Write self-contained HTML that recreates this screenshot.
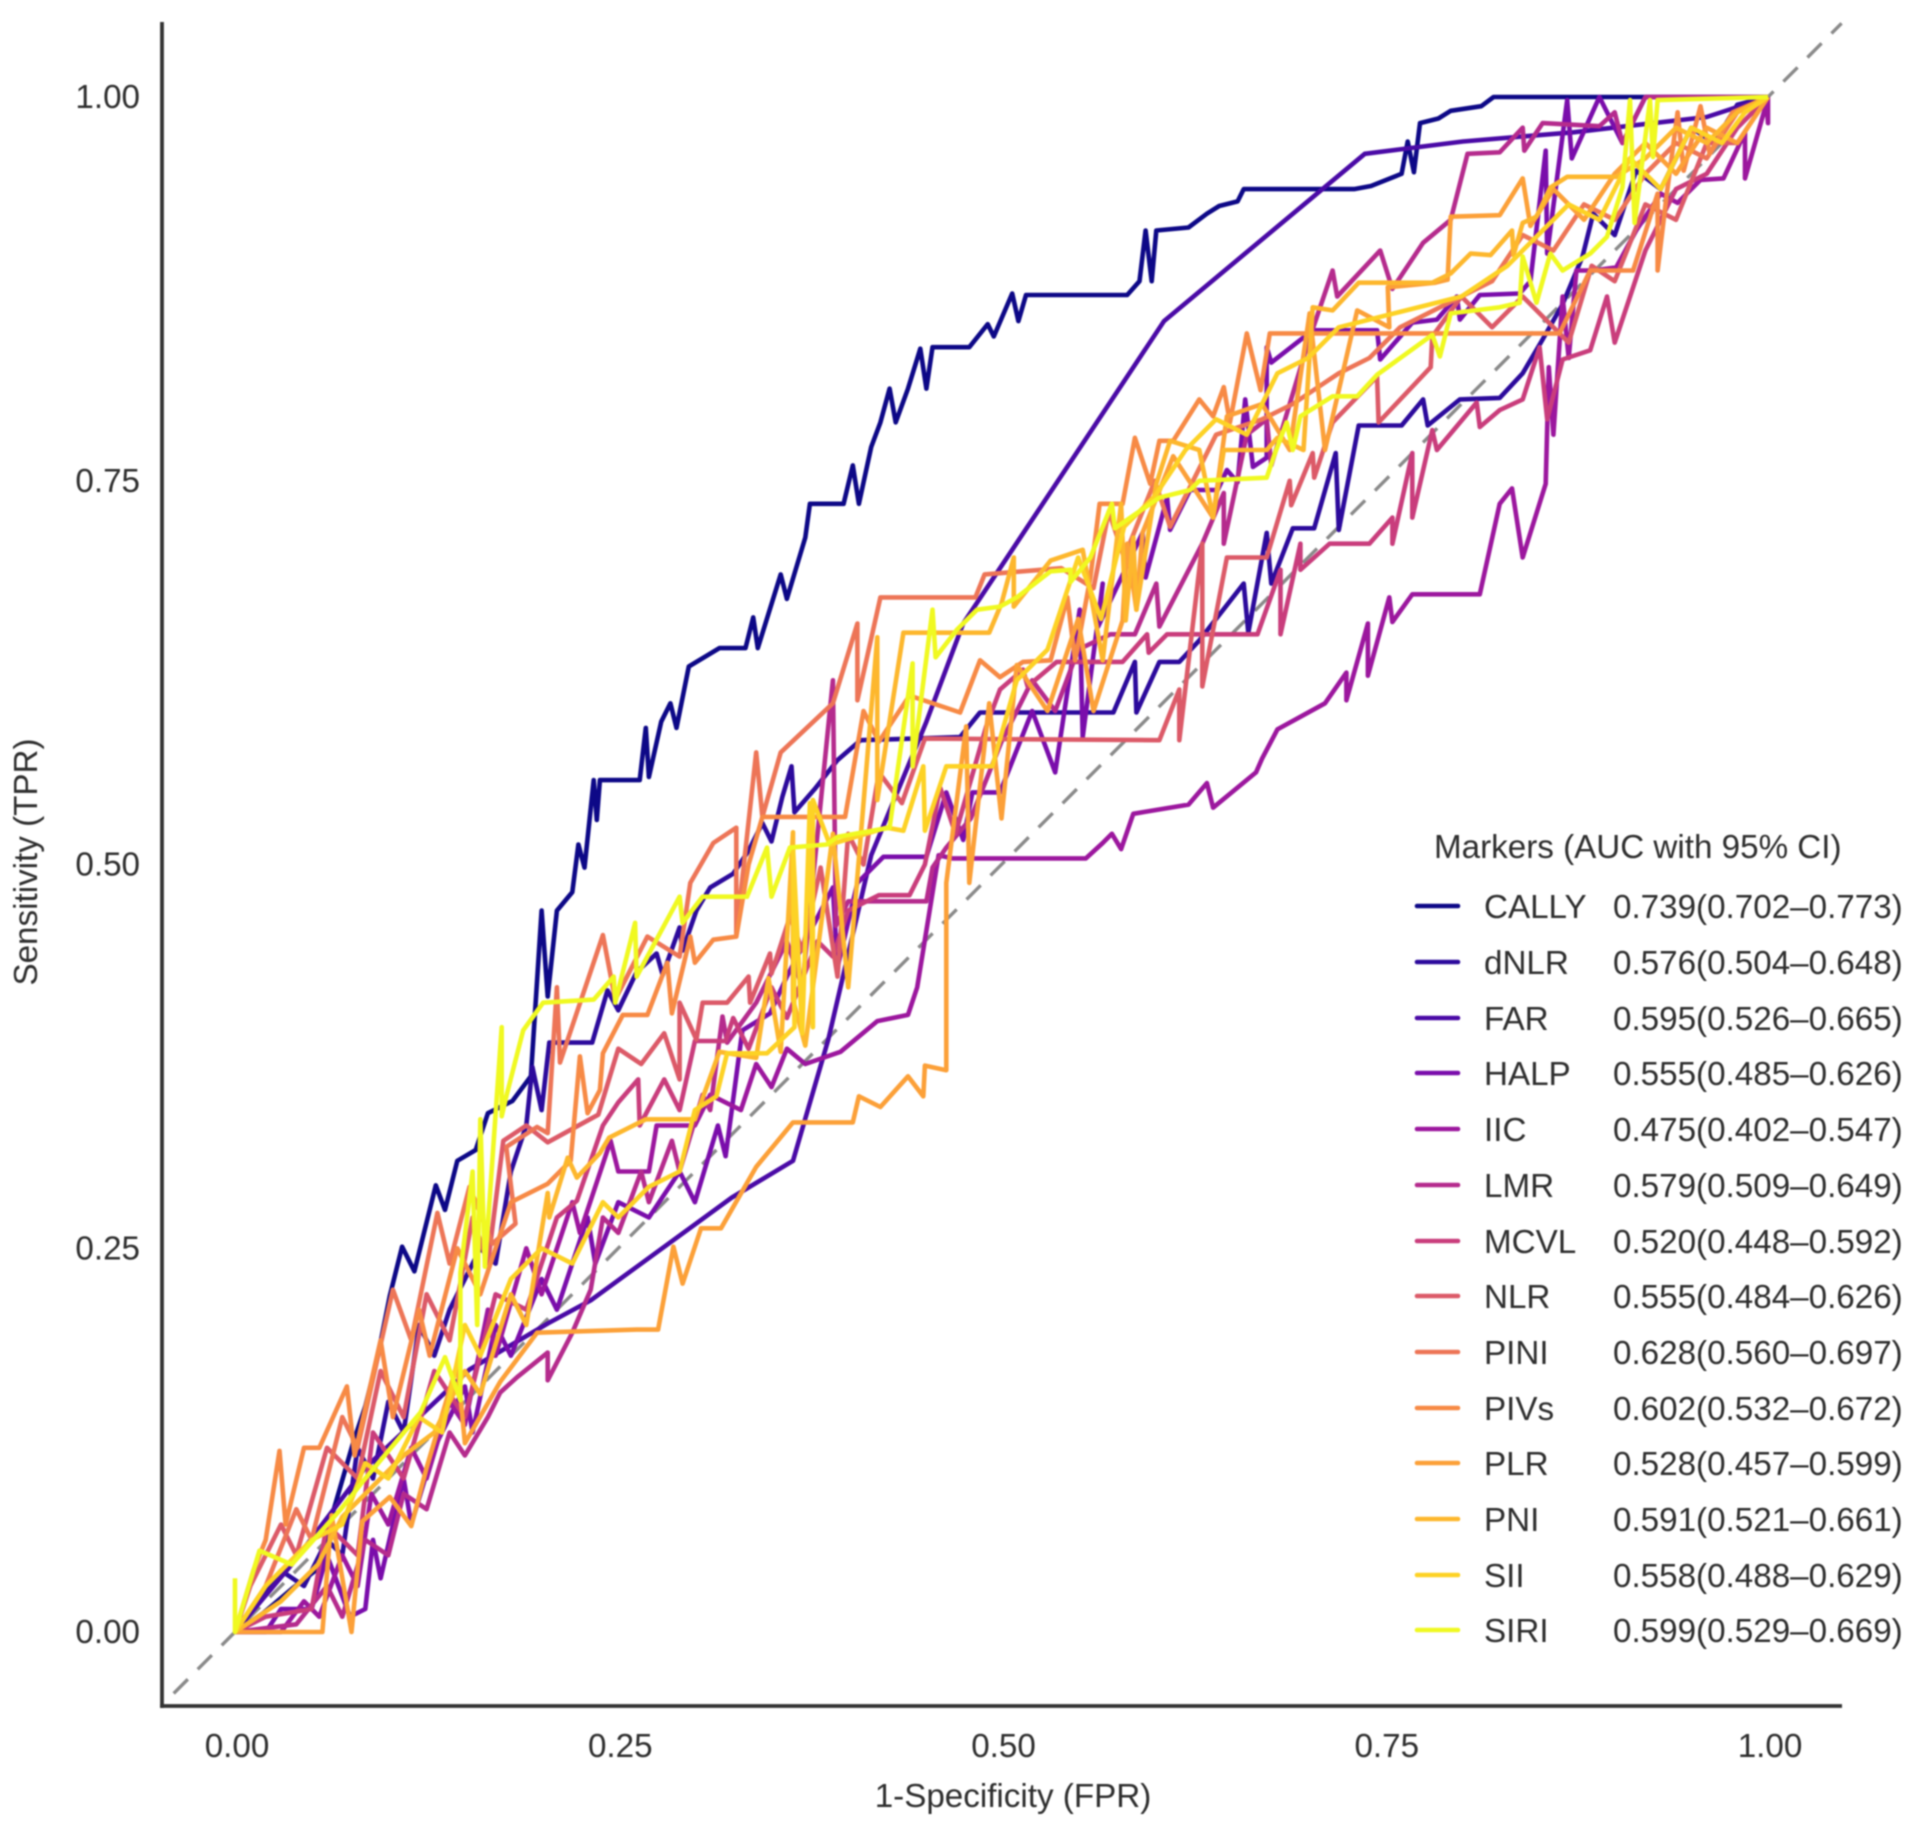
<!DOCTYPE html>
<html lang="en">
<head>
<meta charset="utf-8">
<title>ROC curves of markers</title>
<style>
html,body{margin:0;padding:0;background:#fff;}
svg{display:block;filter:blur(0.7px);}
text{font-family:"Liberation Sans",Arial,sans-serif;font-size:33.2px;fill:#2e2e2e;}
</style>
</head>
<body>
<svg id="chart" width="1913" height="1828" viewBox="0 0 1913 1828" xmlns="http://www.w3.org/2000/svg">
  <rect x="0" y="0" width="1913" height="1828" fill="#fff"/>
  <g id="curves"></g>
  <g id="ticks"></g>
  <line x1="162" y1="22" x2="162" y2="1708" stroke="#333" stroke-width="3.8"/>
  <line x1="160.1" y1="1706" x2="1842" y2="1706" stroke="#333" stroke-width="3.8"/>
  <text x="1013" y="1807" text-anchor="middle">1-Specificity (FPR)</text>
  <text transform="translate(37,862) rotate(-90)" text-anchor="middle">Sensitivity (TPR)</text>
  <g id="legend">
    <text x="1434" y="858">Markers (AUC with 95% CI)</text>
    <line x1="1417" x2="1458" y1="906" y2="906" stroke="#0d0887" stroke-width="4.6" stroke-linecap="round"/>
    <text x="1484" y="918">CALLY</text>
    <text x="1613" y="918">0.739(0.702–0.773)</text>
    <line x1="1417" x2="1458" y1="962" y2="962" stroke="#2c0a9c" stroke-width="4.6" stroke-linecap="round"/>
    <text x="1484" y="974">dNLR</text>
    <text x="1613" y="974">0.576(0.504–0.648)</text>
    <line x1="1417" x2="1458" y1="1018" y2="1018" stroke="#4a0aa6" stroke-width="4.6" stroke-linecap="round"/>
    <text x="1484" y="1030">FAR</text>
    <text x="1613" y="1030">0.595(0.526–0.665)</text>
    <line x1="1417" x2="1458" y1="1073" y2="1073" stroke="#7a0dab" stroke-width="4.6" stroke-linecap="round"/>
    <text x="1484" y="1085">HALP</text>
    <text x="1613" y="1085">0.555(0.485–0.626)</text>
    <line x1="1417" x2="1458" y1="1129" y2="1129" stroke="#9c179e" stroke-width="4.6" stroke-linecap="round"/>
    <text x="1484" y="1141">IIC</text>
    <text x="1613" y="1141">0.475(0.402–0.547)</text>
    <line x1="1417" x2="1458" y1="1185" y2="1185" stroke="#b52b8d" stroke-width="4.6" stroke-linecap="round"/>
    <text x="1484" y="1197">LMR</text>
    <text x="1613" y="1197">0.579(0.509–0.649)</text>
    <line x1="1417" x2="1458" y1="1241" y2="1241" stroke="#c93d7c" stroke-width="4.6" stroke-linecap="round"/>
    <text x="1484" y="1253">MCVL</text>
    <text x="1613" y="1253">0.520(0.448–0.592)</text>
    <line x1="1417" x2="1458" y1="1296" y2="1296" stroke="#dc5a68" stroke-width="4.6" stroke-linecap="round"/>
    <text x="1484" y="1308">NLR</text>
    <text x="1613" y="1308">0.555(0.484–0.626)</text>
    <line x1="1417" x2="1458" y1="1352" y2="1352" stroke="#ed7557" stroke-width="4.6" stroke-linecap="round"/>
    <text x="1484" y="1364">PINI</text>
    <text x="1613" y="1364">0.628(0.560–0.697)</text>
    <line x1="1417" x2="1458" y1="1408" y2="1408" stroke="#f78a45" stroke-width="4.6" stroke-linecap="round"/>
    <text x="1484" y="1420">PIVs</text>
    <text x="1613" y="1420">0.602(0.532–0.672)</text>
    <line x1="1417" x2="1458" y1="1463" y2="1463" stroke="#fca038" stroke-width="4.6" stroke-linecap="round"/>
    <text x="1484" y="1475">PLR</text>
    <text x="1613" y="1475">0.528(0.457–0.599)</text>
    <line x1="1417" x2="1458" y1="1519" y2="1519" stroke="#fdb72d" stroke-width="4.6" stroke-linecap="round"/>
    <text x="1484" y="1531">PNI</text>
    <text x="1613" y="1531">0.591(0.521–0.661)</text>
    <line x1="1417" x2="1458" y1="1575" y2="1575" stroke="#fdd225" stroke-width="4.6" stroke-linecap="round"/>
    <text x="1484" y="1587">SII</text>
    <text x="1613" y="1587">0.558(0.488–0.629)</text>
    <line x1="1417" x2="1458" y1="1630" y2="1630" stroke="#f0f921" stroke-width="4.6" stroke-linecap="round"/>
    <text x="1484" y="1642">SIRI</text>
    <text x="1613" y="1642">0.599(0.529–0.669)</text>
  </g>
</svg>
<script>
const xTickLabels = ["0.00","0.25","0.50","0.75","1.00"];
const yTickLabels = ["0.00","0.25","0.50","0.75","1.00"];
const diagonalRange = [-0.04, 1.048];
const markerNames = ["CALLY","dNLR","FAR","HALP","IIC","LMR","MCVL","NLR","PINI","PIVs","PLR","PNI","SII","SIRI"];
const markerColors = ["#0d0887","#2c0a9c","#4a0aa6","#7a0dab","#9c179e","#b52b8d","#c93d7c","#dc5a68","#ed7557","#f78a45","#fca038","#fdb72d","#fdd225","#f0f921"];

const rocCALLY = [[0,0],[.018,.012],[.037,.028],[.055,.042],[.061,.068],[.077,.123],[.085,.147],[.093,.179],[.101,.219],[.109,.251],[.117,.235],[.131,.291],[.137,.275],[.145,.307],[.157,.314],[.165,.338],[.181,.346],[.193,.362],[.2,.47],[.204,.414],[.21,.47],[.22,.482],[.224,.513],[.228,.498],[.234,.555],[.236,.529],[.238,.555],[.264,.555],[.268,.589],[.27,.557],[.278,.593],[.284,.605],[.288,.589],[.296,.629],[.316,.641],[.333,.641],[.338,.661],[.341,.641],[.356,.689],[.36,.673],[.372,.713],[.375,.735],[.397,.735],[.403,.76],[.407,.735],[.415,.772],[.421,.788],[.427,.81],[.431,.788],[.439,.81],[.447,.836],[.451,.81],[.455,.837],[.479,.837],[.491,.852],[.495,.844],[.507,.872],[.511,.854],[.516,.871],[.582,.871],[.59,.88],[.594,.913],[.598,.88],[.601,.913],[.622,.915],[.634,.924],[.642,.929],[.654,.932],[.658,.94],[.73,.94],[.741,.942],[.761,.95],[.765,.971],[.769,.951],[.773,.983],[.785,.986],[.793,.991],[.813,.994],[.821,1],[1,1]];

const rocDNLR = [[0,0],[.03,.04],[.045,.03],[.06,.06],[.07,.05],[.08,.12],[.09,.1],[.1,.15],[.11,.13],[.12,.2],[.13,.18],[.14,.21],[.16,.25],[.17,.24],[.18,.3],[.19,.33],[.194,.368],[.2,.34],[.205,.384],[.219,.384],[.233,.384],[.243,.418],[.25,.405],[.262,.43],[.275,.442],[.279,.428],[.29,.459],[.292,.444],[.301,.47],[.31,.485],[.325,.494],[.335,.509],[.344,.527],[.35,.515],[.357,.544],[.363,.564],[.365,.534],[.378,.549],[.393,.568],[.408,.581],[.473,.583],[.486,.599],[.499,.599],[.573,.599],[.587,.632],[.588,.599],[.603,.632],[.616,.632],[.629,.646],[.658,.683],[.661,.651],[.673,.716],[.676,.683],[.69,.719],[.704,.719],[.718,.768],[.72,.718],[.733,.786],[.761,.786],[.775,.803],[.778,.786],[.799,.803],[.825,.804],[.84,.82],[.853,.842],[.866,.865],[.879,.896],[.886,.924],[.9,.91],[.914,.952],[.93,.94],[.95,.98],[.965,.97],[.98,.995],[1,1]];

const rocFAR = [[0,0],[.037,.044],[.085,.107],[.153,.171],[.204,.201],[.232,.216],[.324,.283],[.364,.307],[.387,.386],[.415,.506],[.451,.593],[.475,.657],[.507,.705],[.606,.854],[.737,.963],[.801,.971],[.873,.977],[.96,.987],[1,1]];

const rocHALP = [[0,0],[.02,0],[.03,.015],[.05,.015],[.06,.05],[.075,.01],[.085,.015],[.09,.06],[.095,.035],[.11,.1],[.115,.07],[.13,.12],[.15,.16],[.155,.13],[.17,.2],[.18,.18],[.2,.23],[.21,.21],[.23,.27],[.235,.24],[.25,.28],[.27,.27],[.29,.3],[.3,.28],[.315,.33],[.32,.31],[.331,.392],[.349,.403],[.36,.427],[.39,.485],[.393,.433],[.406,.488],[.423,.505],[.451,.505],[.464,.547],[.475,.516],[.481,.547],[.499,.547],[.52,.6],[.535,.56],[.551,.666],[.553,.583],[.566,.683],[.563,.655],[.592,.716],[.594,.687],[.608,.739],[.61,.718],[.623,.744],[.641,.744],[.647,.757],[.654,.749],[.659,.803],[.664,.759],[.673,.765],[.673,.837],[.676,.827],[.703,.848],[.745,.848],[.747,.829],[.768,.853],[.784,.855],[.797,.87],[.799,.855],[.812,.871],[.838,.872],[.845,.88],[.855,.965],[.856,.898],[.869,.998],[.872,.96],[.89,1],[.905,.97],[.92,1],[1,1]];

const rocIIC = [[0,0],[.03,0],[.045,.02],[.055,.01],[.07,.05],[.08,.03],[.089,.09],[.1,.07],[.115,.12],[.125,.1],[.14,.15],[.15,.135],[.165,.21],[.17,.18],[.19,.25],[.2,.22],[.22,.28],[.225,.26],[.245,.32],[.25,.3],[.27,.3],[.275,.33],[.3,.33],[.31,.35],[.33,.34],[.34,.37],[.35,.355],[.36,.38],[.372,.37],[.395,.378],[.419,.398],[.439,.402],[.445,.42],[.459,.506],[.468,.504],[.555,.504],[.566,.514],[.572,.52],[.578,.51],[.586,.533],[.622,.539],[.634,.553],[.638,.537],[.666,.56],[.67,.569],[.68,.588],[.711,.605],[.725,.625],[.725,.607],[.739,.657],[.739,.623],[.753,.674],[.755,.658],[.768,.676],[.812,.676],[.825,.735],[.833,.745],[.84,.7],[.855,.748],[.857,.824],[.86,.78],[.866,.87],[.87,.83],[.875,.887],[.886,.887],[.901,.889],[.914,.913],[.93,.937],[.941,.931],[.956,.946],[.971,.947],[.985,.977],[.985,.947],[.999,.996],[1,.983],[1,1]];

const rocLMR = [[0,0],[.04,.005],[.06,.03],[.07,.01],[.085,.06],[.1,.05],[.11,.09],[.125,.08],[.14,.13],[.15,.115],[.165,.14],[.173,.156],[.184,.166],[.204,.182],[.204,.164],[.22,.195],[.232,.223],[.24,.27],[.25,.26],[.265,.3],[.27,.28],[.285,.32],[.29,.3],[.305,.35],[.31,.34],[.318,.401],[.321,.384],[.34,.41],[.36,.45],[.37,.42],[.39,.62],[.392,.46],[.4,.476],[.451,.476],[.455,.498],[.464,.511],[.48,.53],[.5,.58],[.52,.62],[.535,.6],[.55,.64],[.571,.65],[.587,.65],[.601,.683],[.603,.655],[.631,.709],[.645,.742],[.645,.709],[.66,.78],[.673,.79],[.676,.76],[.7,.84],[.716,.887],[.719,.87],[.747,.9],[.755,.875],[.775,.905],[.793,.92],[.804,.963],[.825,.964],[.84,.98],[.841,.965],[.853,.983],[.89,.981],[.9,.99],[.905,.97],[.92,1],[1,1]];

const rocMCVL = [[0,0],[.02,.01],[.05,.015],[.06,.07],[.08,.05],[.09,.13],[.11,.1],[.13,.17],[.15,.14],[.17,.22],[.19,.21],[.21,.27],[.223,.281],[.24,.33],[.25,.345],[.263,.36],[.264,.33],[.28,.36],[.29,.34],[.3,.385],[.32,.385],[.325,.4],[.335,.38],[.35,.42],[.36,.4],[.38,.45],[.39,.44],[.4,.47],[.42,.48],[.44,.48],[.45,.5],[.46,.55],[.47,.52],[.49,.59],[.499,.614],[.514,.627],[.517,.616],[.536,.632],[.579,.632],[.595,.65],[.596,.638],[.608,.65],[.667,.65],[.682,.692],[.682,.65],[.695,.709],[.695,.692],[.714,.709],[.74,.709],[.755,.726],[.755,.709],[.768,.768],[.768,.726],[.781,.783],[.784,.77],[.81,.801],[.812,.785],[.825,.796],[.84,.803],[.851,.837],[.856,.79],[.866,.829],[.884,.835],[.895,.87],[.9,.84],[.92,.9],[.94,.94],[.96,.95],[.98,.98],[1,1]];

const rocNLR = [[0,0],[.01,.03],[.03,.07],[.04,.05],[.06,.12],[.08,.1],[.095,.17],[.11,.14],[.125,.22],[.14,.19],[.155,.27],[.165,.24],[.175,.32],[.19,.33],[.204,.319],[.237,.337],[.25,.38],[.265,.37],[.28,.39],[.29,.36],[.29,.41],[.301,.386],[.305,.41],[.321,.41],[.335,.427],[.336,.41],[.349,.442],[.35,.429],[.362,.466],[.37,.444],[.382,.498],[.393,.427],[.4,.52],[.41,.5],[.42,.56],[.435,.54],[.45,.582],[.603,.581],[.616,.614],[.616,.581],[.631,.709],[.631,.616],[.647,.7],[.673,.7],[.688,.75],[.689,.734],[.703,.768],[.704,.752],[.716,.788],[.745,.818],[.746,.788],[.78,.824],[.781,.844],[.8,.87],[.82,.85],[.84,.87],[.87,.84],[.885,.89],[.9,.88],[.92,.93],[.94,.92],[.96,.97],[.98,.97],[1,1]];

const rocPINI = [[0,0],[.02,.03],[.04,.08],[.05,.06],[.07,.14],[.08,.12],[.103,.223],[.115,.19],[.132,.273],[.14,.24],[.153,.29],[.168,.253],[.183,.266],[.177,.316],[.197,.329],[.204,.325],[.21,.42],[.212,.371],[.24,.454],[.248,.412],[.269,.453],[.29,.44],[.297,.488],[.312,.514],[.327,.524],[.327,.455],[.34,.573],[.344,.531],[.356,.573],[.39,.605],[.406,.657],[.406,.607],[.421,.674],[.483,.674],[.489,.689],[.539,.693],[.56,.68],[.57,.73],[.58,.7],[.6,.75],[.61,.72],[.64,.78],[.67,.79],[.69,.8],[.72,.82],[.74,.83],[.76,.85],[.78,.86],[.8,.87],[.82,.88],[.84,.91],[.86,.9],[.88,.93],[.9,.92],[.92,.95],[.94,.97],[.96,.96],[.98,.99],[1,1]];

const rocPIVs = [[0,0],[.012,.04],[.02,.06],[.029,.118],[.033,.07],[.045,.12],[.055,.12],[.073,.16],[.078,.115],[.095,.19],[.103,.14],[.12,.21],[.127,.18],[.145,.25],[.16,.22],[.18,.28],[.204,.292],[.219,.307],[.225,.375],[.23,.338],[.238,.353],[.24,.377],[.253,.402],[.269,.402],[.282,.436],[.285,.403],[.297,.453],[.3,.436],[.312,.451],[.327,.453],[.335,.5],[.344,.531],[.398,.531],[.41,.6],[.42,.58],[.44,.61],[.473,.599],[.486,.633],[.499,.622],[.514,.632],[.532,.633],[.543,.674],[.548,.633],[.558,.687],[.564,.735],[.579,.735],[.587,.778],[.597,.748],[.603,.776],[.612,.776],[.629,.803],[.638,.792],[.645,.811],[.649,.788],[.66,.846],[.669,.809],[.675,.846],[.864,.846],[.884,.887],[.897,.887],[.912,.887],[.928,.937],[.928,.887],[.934,.937],[.941,.99],[.945,.952],[.956,.994],[.962,.963],[.977,.99],[1,1]];

const rocPLR = [[0,0],[.057,0],[.063,.076],[.076,0],[.083,.072],[.101,.088],[.115,.069],[.125,.107],[.145,.175],[.15,.123],[.173,.163],[.197,.195],[.262,.197],[.276,.197],[.286,.251],[.292,.227],[.304,.263],[.317,.263],[.34,.303],[.364,.332],[.403,.332],[.407,.349],[.421,.342],[.439,.362],[.449,.349],[.45,.369],[.464,.366],[.464,.488],[.477,.59],[.479,.488],[.492,.605],[.5,.53],[.51,.63],[.53,.6],[.55,.66],[.56,.6],[.579,.659],[.582,.709],[.588,.666],[.592,.716],[.612,.766],[.638,.726],[.647,.792],[.67,.8],[.688,.77],[.701,.859],[.711,.77],[.732,.861],[.753,.85],[.752,.876],[.783,.879],[.791,.881],[.793,.922],[.825,.923],[.84,.947],[.845,.916],[.86,.94],[.88,.92],[.9,.95],[.92,.97],[.94,.95],[.96,.98],[.98,.97],[1,1]];

const rocPNI = [[0,0],[.03,.02],[.054,.044],[.07,.075],[.095,.1],[.11,.115],[.13,.13],[.15,.17],[.16,.155],[.18,.22],[.19,.2],[.204,.286],[.205,.27],[.217,.309],[.223,.296],[.238,.312],[.244,.322],[.268,.334],[.3,.334],[.316,.378],[.34,.374],[.348,.426],[.356,.378],[.364,.521],[.364,.412],[.372,.382],[.39,.52],[.4,.42],[.419,.648],[.419,.542],[.436,.651],[.492,.651],[.5,.67],[.508,.7],[.508,.668],[.532,.698],[.553,.705],[.566,.633],[.578,.735],[.581,.659],[.586,.713],[.588,.666],[.601,.748],[.61,.776],[.629,.77],[.638,.726],[.645,.77],[.673,.77],[.68,.778],[.697,.77],[.703,.863],[.716,.861],[.733,.879],[.781,.879],[.793,.885],[.806,.898],[.819,.897],[.833,.913],[.834,.897],[.84,.918],[.849,.922],[.858,.941],[.869,.948],[.901,.948],[.92,.96],[.94,.98],[.96,.97],[.98,.99],[1,1]];

const rocSII = [[0,0],[.02,.03],[.05,.06],[.07,.07],[.085,.11],[.1,.1],[.12,.14],[.135,.13],[.15,.2],[.16,.18],[.18,.23],[.2,.25],[.22,.24],[.24,.28],[.25,.27],[.27,.29],[.29,.3],[.3,.34],[.314,.349],[.321,.377],[.347,.377],[.365,.394],[.364,.511],[.37,.39],[.375,.54],[.377,.394],[.377,.542],[.388,.513],[.425,.524],[.436,.522],[.449,.564],[.45,.522],[.464,.564],[.494,.564],[.51,.62],[.53,.64],[.55,.7],[.565,.66],[.58,.72],[.6,.74],[.62,.77],[.64,.79],[.66,.78],[.68,.82],[.7,.83],[.72,.85],[.76,.86],[.8,.87],[.83,.89],[.85,.91],[.87,.93],[.89,.92],[.91,.96],[.93,.94],[.95,.98],[.97,.97],[.985,.99],[1,1]];

const rocSIRI = [[0,.035],[0,0],[.016,.053],[.037,.044],[.069,.08],[.085,.1],[.121,.143],[.137,.179],[.147,.151],[.147,.234],[.155,.3],[.158,.2],[.16,.334],[.163,.238],[.174,.394],[.174,.336],[.177,.349],[.188,.392],[.201,.41],[.234,.412],[.247,.427],[.248,.41],[.261,.462],[.262,.427],[.29,.479],[.292,.462],[.305,.479],[.334,.479],[.347,.511],[.35,.479],[.362,.511],[.386,.513],[.393,.518],[.427,.524],[.442,.631],[.442,.564],[.455,.666],[.457,.635],[.471,.653],[.484,.666],[.499,.668],[.51,.674],[.532,.691],[.545,.692],[.545,.684],[.558,.7],[.572,.735],[.574,.719],[.603,.739],[.623,.744],[.629,.75],[.673,.752],[.678,.767],[.686,.788],[.69,.77],[.695,.792],[.716,.805],[.732,.805],[.745,.819],[.781,.845],[.786,.831],[.793,.859],[.825,.863],[.838,.866],[.84,.896],[.849,.866],[.858,.898],[.866,.887],[.884,.898],[.895,.909],[.905,.941],[.91,.998],[.913,.918],[.923,.998],[.925,.961],[.928,.998],[1,1]];

const allSeries = [rocCALLY,rocDNLR,rocFAR,rocHALP,rocIIC,rocLMR,rocMCVL,rocNLR,rocPINI,rocPIVs,rocPLR,rocPNI,rocSII,rocSIRI];

function xScale(v){ return 235 + v * 1533; }
function yScale(v){ return 1632 - v * 1535; }

const SVGNS = "http://www.w3.org/2000/svg";
const curves = document.getElementById("curves");
const ticks = document.getElementById("ticks");

const diag = document.createElementNS(SVGNS, "line");


diag.setAttribute("x1", xScale(diagonalRange[0]));
diag.setAttribute("y1", yScale(diagonalRange[0]));
diag.setAttribute("x2", xScale(diagonalRange[1]));
diag.setAttribute("y2", yScale(diagonalRange[1]));
diag.setAttribute("stroke", "#8a8a8a");
diag.setAttribute("stroke-width", "3.4");
diag.setAttribute("stroke-dasharray", "20 14");
curves.appendChild(diag);

allSeries.forEach(function(series, i){
  const path = document.createElementNS(SVGNS, "path");
  const d = series.map(function(p, j){
    return (j ? "L" : "M") + xScale(p[0]).toFixed(1) + " " + yScale(p[1]).toFixed(1);
  }).join("");
  path.setAttribute("d", d);
  path.setAttribute("fill", "none");
  path.setAttribute("stroke", markerColors[i]);
  path.setAttribute("stroke-width", "4.6");
  path.setAttribute("stroke-linejoin", "round");
  
  
  curves.appendChild(path);
});

xTickLabels.forEach(function(label){
  const t = document.createElementNS(SVGNS, "text");
  t.setAttribute("x", xScale(parseFloat(label)) + 2);
  t.setAttribute("y", 1757);
  t.setAttribute("text-anchor", "middle");
  
  
  t.textContent = label;
  ticks.appendChild(t);
});

yTickLabels.forEach(function(label){
  const t = document.createElementNS(SVGNS, "text");
  t.setAttribute("x", 140);
  t.setAttribute("y", yScale(parseFloat(label)) + 11);
  t.setAttribute("text-anchor", "end");
  
  
  t.textContent = label;
  ticks.appendChild(t);
});
</script>
</body>
</html>
